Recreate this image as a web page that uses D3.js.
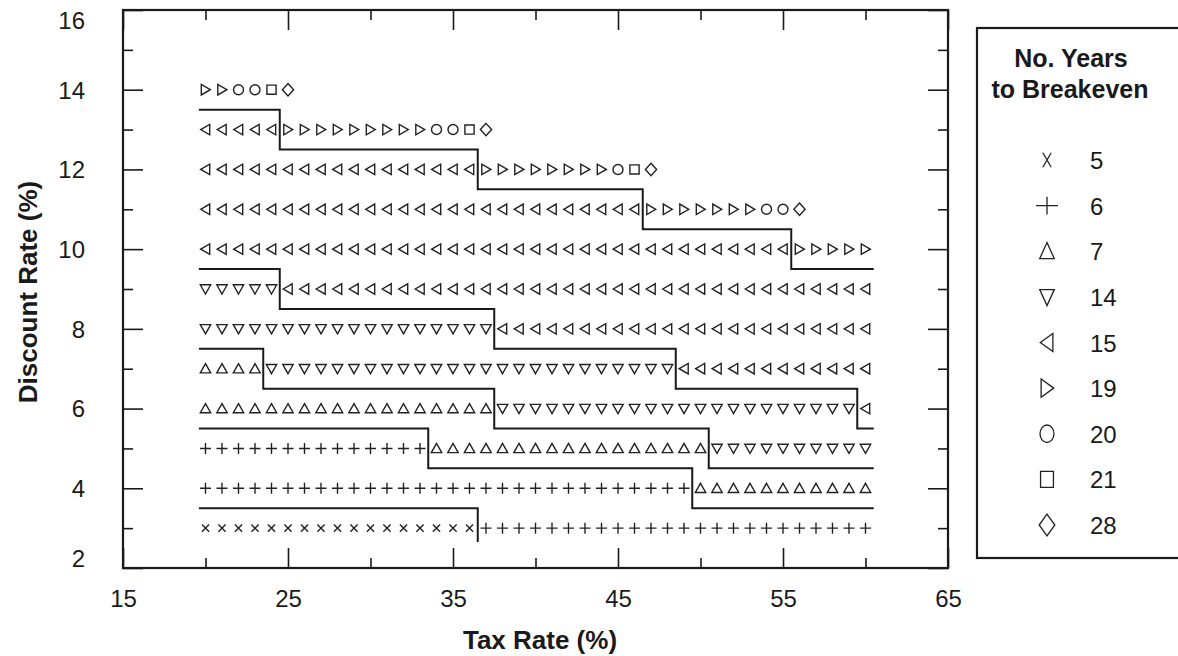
<!DOCTYPE html>
<html>
<head>
<meta charset="utf-8">
<script src="https://cdn.jsdelivr.net/npm/d3@7"></script>
<style>
  body { margin: 0; background: #fff; }
  svg { display: block; }
</style>
</head>
<body>
<div id="chart"></div>
<script>
// Discount rates (rows) and the breakeven years found along each row.
// Each run is [years to breakeven, first tax rate, last tax rate].
const discountRates = [3, 4, 5, 6, 7, 8, 9, 10, 11, 12, 13, 14];
const runs3  = [[5, 20, 36], [6, 37, 60]];
const runs4  = [[6, 20, 49], [7, 50, 60]];
const runs5  = [[6, 20, 33], [7, 34, 50], [14, 51, 60]];
const runs6  = [[7, 20, 37], [14, 38, 59], [15, 60, 60]];
const runs7  = [[7, 20, 23], [14, 24, 48], [15, 49, 60]];
const runs8  = [[14, 20, 37], [15, 38, 60]];
const runs9  = [[14, 20, 24], [15, 25, 60]];
const runs10 = [[15, 20, 55], [19, 56, 60]];
const runs11 = [[15, 20, 46], [19, 47, 53], [20, 54, 55], [28, 56, 56]];
const runs12 = [[15, 20, 36], [19, 37, 44], [20, 45, 45], [21, 46, 46], [28, 47, 47]];
const runs13 = [[15, 20, 24], [19, 25, 33], [20, 34, 35], [21, 36, 36], [28, 37, 37]];
const runs14 = [[19, 20, 21], [20, 22, 23], [21, 24, 24], [28, 25, 25]];
const yearRuns = [runs3, runs4, runs5, runs6, runs7, runs8, runs9, runs10, runs11, runs12, runs13, runs14];

// Region boundaries as [tax rate, discount rate] vertices
const boundary5to6   = [[19.6, 3.5], [36.5, 3.5], [36.5, 2.65]];
const boundary6to7   = [[19.6, 5.5], [33.5, 5.5], [33.5, 4.5], [49.5, 4.5], [49.5, 3.5], [60.5, 3.5]];
const boundary7to14  = [[19.6, 7.5], [23.5, 7.5], [23.5, 6.5], [37.5, 6.5], [37.5, 5.5], [50.5, 5.5], [50.5, 4.5], [60.5, 4.5]];
const boundary14to15 = [[19.6, 9.5], [24.5, 9.5], [24.5, 8.5], [37.5, 8.5], [37.5, 7.5], [48.5, 7.5], [48.5, 6.5], [59.5, 6.5], [59.5, 5.5], [60.5, 5.5]];
const boundary15to19 = [[19.6, 13.5], [24.5, 13.5], [24.5, 12.5], [36.5, 12.5], [36.5, 11.5], [46.5, 11.5], [46.5, 10.5], [55.5, 10.5], [55.5, 9.5], [60.5, 9.5]];
const boundaries = [boundary5to6, boundary6to7, boundary7to14, boundary14to15, boundary15to19];

const legendYears = [5, 6, 7, 14, 15, 19, 20, 21, 28];

const xMajorTicks = [15, 25, 35, 45, 55, 65];
const xMinorTicks = [20, 30, 40, 50, 60];
const yMajorTicks = [2, 4, 6, 8, 10, 12, 14, 16];
const yMinorTicks = [3, 5, 7, 9, 11, 13, 15];

const FONT = '"Liberation Sans", Arial, Helvetica, sans-serif';
const INK = '#1a1a1a';

const width = 1178, height = 656;
const plot = { left: 123, top: 10, right: 948, bottom: 568 };

const x = d3.scaleLinear().domain([15, 65]).range([plot.left, plot.right]);
const y = d3.scaleLinear().domain([2, 16]).range([plot.bottom, plot.top]);

const svg = d3.select('#chart')
  .append('svg')
  .attr('width', width)
  .attr('height', height)
  .style('font-family', FONT);

// Marker shapes, centred on 0,0
const shapes = {
  5: 'M-3.6,-3.6L3.6,3.6M-3.6,3.6L3.6,-3.6',
  6: 'M-5.5,0H5.5M0,-5.5V5.5',
  7: 'M0,-5L5.2,4.2L-5.2,4.2Z',
  14: 'M0,5L5.2,-4.2L-5.2,-4.2Z',
  15: 'M-4.8,0L4.2,-5.2L4.2,5.2Z',
  19: 'M4.8,0L-4.2,-5.2L-4.2,5.2Z',
  20: 'M5,0A5,5 0 1,1 -5,0A5,5 0 1,1 5,0Z',
  21: 'M-4.6,-4.6H4.6V4.6H-4.6Z',
  28: 'M0,-6.2L5.6,0L0,6.2L-5.6,0Z'
};

// Axes: ticks point inward on all four sides
function tickAxis(axis, values, size, transform, withLabels, padding) {
  const g = svg.append('g')
    .attr('transform', transform)
    .call(axis.tickValues(values).tickSize(-size).tickSizeOuter(0)
      .tickPadding(padding || 3)
      .tickFormat(withLabels ? d3.format('d') : ''));
  g.select('.domain').remove();
  g.selectAll('line').attr('stroke', INK).attr('stroke-width', 1.6);
  g.selectAll('text')
    .attr('fill', INK)
    .attr('font-family', FONT)
    .attr('font-size', '24px');
  return g;
}

const yLabels = tickAxis(d3.axisLeft(y), yMajorTicks, 20, `translate(${plot.left},0)`, true, 38);
yLabels.selectAll('text')
  .attr('dy', d => d === 16 ? '0.75em' : d === 2 ? '-0.05em' : '0.35em');
tickAxis(d3.axisLeft(y), yMinorTicks, 10, `translate(${plot.left},0)`, false);
tickAxis(d3.axisRight(y), yMajorTicks, 20, `translate(${plot.right},0)`, false);
tickAxis(d3.axisRight(y), yMinorTicks, 10, `translate(${plot.right},0)`, false);
tickAxis(d3.axisBottom(x), xMajorTicks, 20, `translate(0,${plot.bottom})`, true, 22);
tickAxis(d3.axisBottom(x), xMinorTicks, 10, `translate(0,${plot.bottom})`, false);
tickAxis(d3.axisTop(x), xMajorTicks, 20, `translate(0,${plot.top})`, false);
tickAxis(d3.axisTop(x), xMinorTicks, 10, `translate(0,${plot.top})`, false);

// Plot frame
svg.append('rect')
  .attr('x', plot.left)
  .attr('y', plot.top)
  .attr('width', plot.right - plot.left)
  .attr('height', plot.bottom - plot.top)
  .attr('fill', 'none')
  .attr('stroke', INK)
  .attr('stroke-width', 2.2);

// Boundary step lines
const line = d3.line().x(d => x(d[0])).y(d => y(d[1]));
svg.append('g')
  .selectAll('path')
  .data(boundaries)
  .join('path')
  .attr('d', line)
  .attr('fill', 'none')
  .attr('stroke', INK)
  .attr('stroke-width', 2);

// Expand runs into individual points
const points = discountRates.flatMap((rate, i) =>
  yearRuns[i].flatMap(([years, from, to]) =>
    d3.range(from, to + 1).map(tax => ({ tax, rate, years }))));

svg.append('g')
  .selectAll('path')
  .data(points)
  .join('path')
  .attr('transform', d => `translate(${x(d.tax)},${y(d.rate)})`)
  .attr('d', d => shapes[d.years])
  .attr('fill', 'none')
  .attr('stroke', '#222')
  .attr('stroke-width', 1.4);

// Axis titles
svg.append('text')
  .attr('x', 540)
  .attr('y', 649)
  .attr('text-anchor', 'middle')
  .attr('font-size', '26px')
  .attr('font-weight', 'bold')
  .attr('fill', INK)
  .text('Tax Rate (%)');

svg.append('text')
  .attr('transform', 'translate(37,292) rotate(-90)')
  .attr('text-anchor', 'middle')
  .attr('font-size', '26px')
  .attr('font-weight', 'bold')
  .attr('fill', INK)
  .text('Discount Rate (%)');

// Legend
const legend = svg.append('g');
legend.append('rect')
  .attr('x', 977)
  .attr('y', 28)
  .attr('width', 240)
  .attr('height', 530)
  .attr('fill', 'none')
  .attr('stroke', INK)
  .attr('stroke-width', 2.2);

legend.append('text')
  .attr('x', 1071)
  .attr('y', 67)
  .attr('text-anchor', 'middle')
  .attr('font-size', '25px')
  .attr('font-weight', 'bold')
  .attr('fill', INK)
  .text('No. Years');
legend.append('text')
  .attr('x', 1070)
  .attr('y', 98)
  .attr('text-anchor', 'middle')
  .attr('font-size', '25px')
  .attr('font-weight', 'bold')
  .attr('fill', INK)
  .text('to Breakeven');

const legendY = d3.scalePoint().domain(legendYears).range([160, 525]);
const legendScale = { 5: [1.15, 2.0], 6: [2.0, 1.6] };

const items = legend.selectAll('g.item')
  .data(legendYears)
  .join('g')
  .attr('class', 'item')
  .attr('transform', d => `translate(0,${legendY(d)})`);

items.append('path')
  .attr('transform', d => {
    const s = legendScale[d] || [1.4, 1.75];
    return `translate(1047,0) scale(${s[0]},${s[1]})`;
  })
  .attr('d', d => shapes[d])
  .attr('fill', 'none')
  .attr('stroke', '#222')
  .attr('stroke-width', 1.3)
  .attr('vector-effect', 'non-scaling-stroke');

items.append('text')
  .attr('x', 1090)
  .attr('y', 9)
  .attr('font-size', '24px')
  .attr('fill', INK)
  .text(d => d);
</script>
</body>
</html>
